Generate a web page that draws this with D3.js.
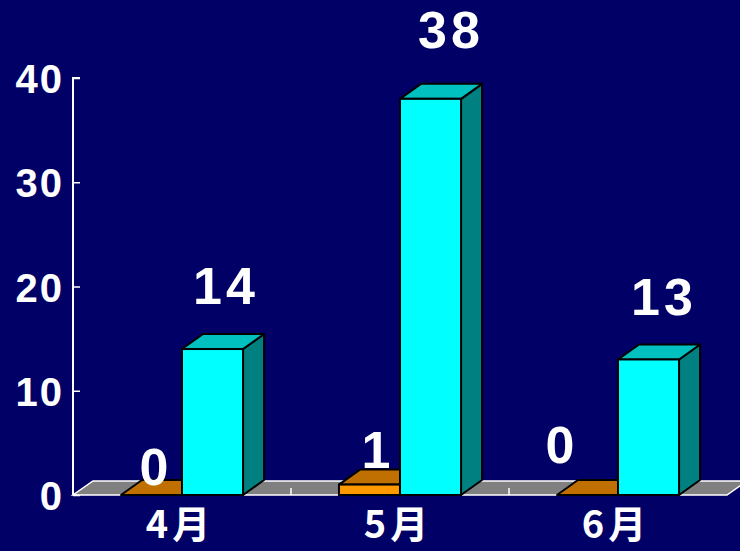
<!DOCTYPE html>
<html>
<head>
<meta charset="utf-8">
<script src="https://cdn.jsdelivr.net/npm/d3@7"></script>
<style>
  html, body { margin: 0; padding: 0; background: #000066; }
  svg { display: block; }
</style>
</head>
<body>
<svg id="chart" width="740" height="551"></svg>
<script>
// ---- data ----
const categories = ["4月", "5月", "6月"];
const seriesNames = ["A", "B"];
const seriesA = [0, 1, 0];      // orange
const seriesB = [14, 38, 13];   // cyan
const yTicks = [0, 10, 20, 30, 40];

// ---- layout / style (not data) ----
const W = 740, H = 551;
const plot = { left: 73, right: 727, top: 78, bottom: 495 };
const depth = { dx: 21, dy: -15 };
const floorDepth = { dx: 20, dy: -14 };
const colors = [
  { front: "#ff9900", top: "#c07000", side: "#a05800" },
  { front: "#00ffff", top: "#00c0c0", side: "#008080" }
];
// per-label manual nudges [category][series] -> [dx, dy]
const labelNudge = [
  [[-11, 36], [-2, 1]],
  [[-7, 29], [5, -5]],
  [[-41, 14], [0, 2]]
];

const svg = d3.select("#chart");
svg.append("rect").attr("width", W).attr("height", H).attr("fill", "#000066");

const x = d3.scaleBand().domain(categories).range([plot.left, plot.right]).padding(0);
const y = d3.scaleLinear().domain([0, 40]).range([plot.bottom, plot.top]);
const barW = x.bandwidth() * 0.28;

// floor
const y0 = y(0);
svg.append("polygon")
  .attr("points", [
    [plot.left, y0], [plot.right, y0],
    [plot.right + floorDepth.dx, y0 + floorDepth.dy],
    [plot.left + floorDepth.dx, y0 + floorDepth.dy]
  ].map(p => p.join(",")).join(" "))
  .attr("fill", "#808080")
  .attr("stroke", "#ffffff")
  .attr("stroke-width", 1.5);

// category boundary ticks on floor
categories.slice(1).forEach(c => {
  const xx = x(c);
  svg.append("line")
    .attr("x1", xx).attr("x2", xx)
    .attr("y1", y0).attr("y2", y0 - 7)
    .attr("stroke", "#ffffff").attr("stroke-width", 1.5);
});

// y axis
const yAxis = d3.axisRight(y).tickValues(yTicks).tickSize(7).tickFormat("");
const gy = svg.append("g").attr("transform", `translate(${plot.left},0)`).call(yAxis);
gy.select(".domain").attr("stroke", "#ffffff").attr("stroke-width", 2)
  .attr("d", `M7,${y(40)}H0V${y(0)}`);
gy.selectAll(".tick line").attr("stroke", "#ffffff").attr("stroke-width", 1.5);

svg.append("g").selectAll("text").data(yTicks).join("text")
  .attr("x", plot.left - 9)
  .attr("y", d => y(d) + 15)
  .attr("text-anchor", "end")
  .attr("fill", "#ffffff")
  .attr("font-family", "Liberation Sans, Arial, sans-serif")
  .attr("font-weight", "bold")
  .attr("font-size", 40)
  .attr("letter-spacing", 2)
  .text(d => d);

// bars
const series = [seriesA, seriesB];
function pts(arr) { return arr.map(p => p.join(",")).join(" "); }

categories.forEach((c, ci) => {
  const cx = x(c) + x.bandwidth() / 2;
  series.forEach((s, si) => {
    const v = s[ci];
    const x0 = cx - barW + si * barW;
    const x1 = x0 + barW;
    const yt = y(v);
    const col = colors[si];
    const g = svg.append("g");
    g.append("polygon")
      .attr("points", pts([[x1, y0], [x1, yt], [x1 + depth.dx, yt + depth.dy], [x1 + depth.dx, y0 + depth.dy]]))
      .attr("fill", col.side).attr("stroke", "#000").attr("stroke-width", 2).attr("stroke-linejoin", "round");
    g.append("polygon")
      .attr("points", pts([[x0, yt], [x1, yt], [x1 + depth.dx, yt + depth.dy], [x0 + depth.dx, yt + depth.dy]]))
      .attr("fill", col.top).attr("stroke", "#000").attr("stroke-width", 2).attr("stroke-linejoin", "round");
    g.append("rect")
      .attr("x", x0).attr("y", yt).attr("width", barW).attr("height", Math.max(0, y0 - yt))
      .attr("fill", col.front).attr("stroke", "#000").attr("stroke-width", 2);
  });
});

// value labels
categories.forEach((c, ci) => {
  const cx = x(c) + x.bandwidth() / 2;
  series.forEach((s, si) => {
    const v = s[ci];
    const x0 = cx - barW + si * barW;
    const bc = x0 + barW / 2;
    const n = labelNudge[ci][si];
    svg.append("text")
      .attr("x", bc + depth.dx / 2 + 5 + n[0])
      .attr("y", y(v) - 46 + n[1])
      .attr("text-anchor", "middle")
      .attr("fill", "#ffffff")
      .attr("font-family", "Liberation Sans, Arial, sans-serif")
      .attr("font-weight", "bold")
      .attr("font-size", 52)
      .attr("letter-spacing", 4)
      .text(v);
  });
});

// category labels
svg.append("g").selectAll("text").data(categories).join("text")
  .attr("x", d => x(d) + x.bandwidth() / 2 - 2)
  .attr("y", 538)
  .attr("text-anchor", "middle")
  .attr("fill", "#ffffff")
  .attr("font-family", "Noto Sans CJK JP, sans-serif")
  .attr("font-weight", "bold")
  .attr("font-size", 38)
  .attr("letter-spacing", 4)
  .text(d => d);
</script>
</body>
</html>
